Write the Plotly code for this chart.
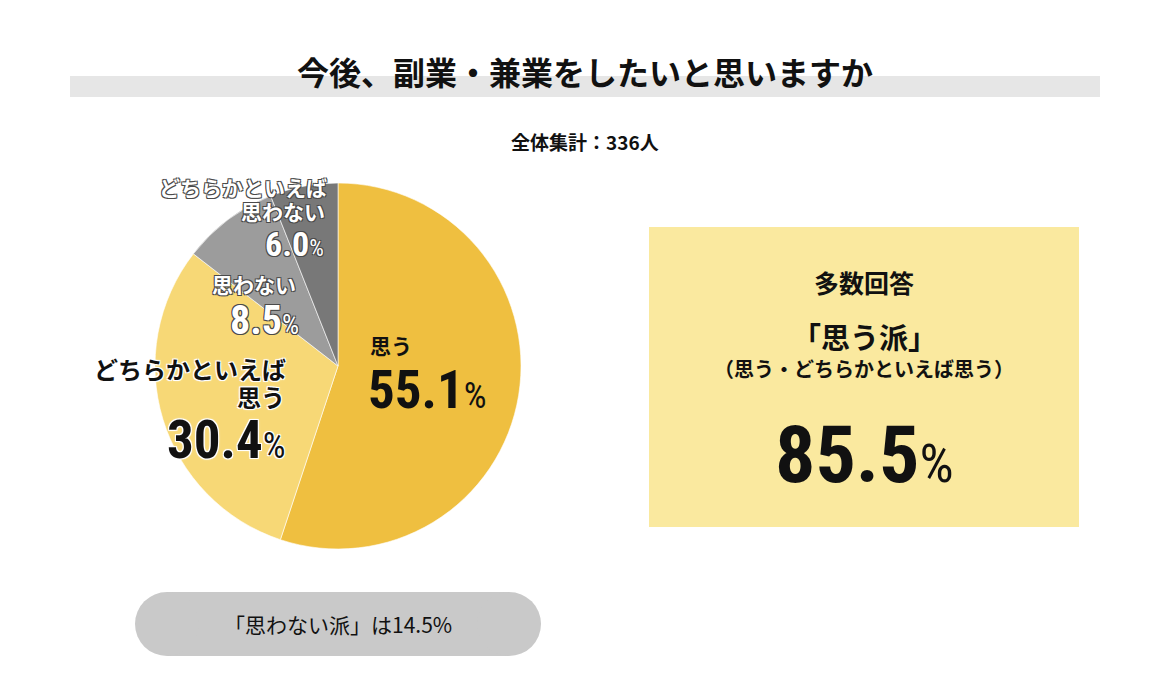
import plotly.graph_objects as go

# データ
labels = ["思う", "どちらかといえば思う", "思わない", "どちらかといえば思わない"]
values = [55.1, 30.4, 8.5, 6.0]
colors = ["#EFBF40", "#F7D876", "#9C9C9C", "#787878"]
total_n = 336

title_text = "今後、副業・兼業をしたいと思いますか"
yes_total = round(values[0] + values[1], 1)
no_total = round(values[2] + values[3], 1)

# ページの body に 8px の余白があるので、その分を引いて座標を合わせる
OFF = 8
W, H = 1170 - OFF, 682 - OFF
JP = "Noto Sans CJK JP"
NUM = "Roboto Condensed, Open Sans Condensed, DejaVu Sans Condensed, Noto Sans, sans-serif"


def px(x):
    return (x - OFF) / W


def py(y):
    return 1 - (y - OFF) / H


fig = go.Figure(
    data=[go.Pie(
        labels=labels,
        values=values,
        sort=False,
        direction="clockwise",
        rotation=0,
        marker=dict(colors=colors, line=dict(color="#FFFFFF", width=0.6)),
        textinfo="none",
        hoverinfo="skip",
        domain=dict(x=[px(155), px(521)], y=[py(549), py(183)]),
        showlegend=False,
    )]
)

shapes = [
    # タイトル下の帯
    dict(type="rect", xref="paper", yref="paper", x0=px(70), x1=px(1100), y0=py(97), y1=py(76),
         fillcolor="#E6E6E6", line=dict(width=0), layer="below"),
    # 右の黄色いボックス
    dict(type="rect", xref="paper", yref="paper", x0=px(649), x1=px(1079), y0=py(527), y1=py(227),
         fillcolor="#FAE99F", line=dict(width=0), layer="below"),
    # 下の丸いラベル
    dict(type="rect", xref="paper", yref="paper", x0=px(167), x1=px(509), y0=py(656), y1=py(592),
         fillcolor="#C9C9C9", line=dict(width=0), layer="below"),
    dict(type="circle", xref="paper", yref="paper", x0=px(135), x1=px(199), y0=py(656), y1=py(592),
         fillcolor="#C9C9C9", line=dict(width=0), layer="below"),
    dict(type="circle", xref="paper", yref="paper", x0=px(477), x1=px(541), y0=py(656), y1=py(592),
         fillcolor="#C9C9C9", line=dict(width=0), layer="below"),
]

white_edge = "-1px -1px 0 #FFF, 1px -1px 0 #FFF, -1px 1px 0 #FFF, 1px 1px 0 #FFF, 0 0 3px #FFF"
gray_edge = "-1px -1px 0 #4A4A4A, 1px -1px 0 #4A4A4A, -1px 1px 0 #4A4A4A, 1px 1px 0 #4A4A4A"


def ann(text, x, y, size, family=JP, color="#111111", weight="bold", xanchor="center", shadow=None):
    font = dict(family=family, size=size, color=color, weight=weight)
    if shadow:
        font["shadow"] = shadow
    return dict(text=text, x=px(x), y=py(y), xref="paper", yref="paper", showarrow=False,
                xanchor=xanchor, yanchor="middle", font=font)


def pct(v, size):
    ps = round(size * 0.68)
    st = f"font-family:{NUM};font-stretch:condensed"
    return (f"<span style=\"{st};font-size:{size}px;font-weight:bold\">{v}</span>"
            f"<span style=\"{st};font-size:{ps}px;font-weight:normal\">%</span>")


annotations = [
    ann(title_text, 585, 71, 32),
    ann(f"全体集計：{total_n}人", 585, 141, 19),

    # 思う
    ann(labels[0], 368, 345, 21, xanchor="left"),
    ann(pct(values[0], 53), 366, 390, 53, family=NUM, xanchor="left"),

    # どちらかといえば思う
    ann("どちらかといえば", 288, 368, 24, xanchor="right", shadow=white_edge),
    ann("思う", 287, 396, 24, xanchor="right", shadow=white_edge),
    ann(pct(values[1], 53), 288, 440, 53, family=NUM, xanchor="right", shadow=white_edge),

    # 思わない
    ann(labels[2], 298, 284, 21, color="#FFFFFF", xanchor="right", shadow=gray_edge),
    ann(pct(values[2], 40), 301, 320, 40, family=NUM, color="#FFFFFF", xanchor="right", shadow=gray_edge),

    # どちらかといえば思わない
    ann("どちらかといえば", 329, 187, 21, color="#FFFFFF", xanchor="right", shadow=gray_edge),
    ann("思わない", 327, 211, 21, color="#FFFFFF", xanchor="right", shadow=gray_edge),
    ann(pct(values[3], 34), 326, 244, 34, family=NUM, color="#FFFFFF", xanchor="right", shadow=gray_edge),

    # 右ボックス
    ann("多数回答", 864, 282, 25),
    ann("「思う派」", 864, 336, 29),
    ann("（思う・どちらかといえば思う）", 864, 368, 20),
    ann(pct(yes_total, 80), 864, 455, 80, family=NUM),

    # 下ラベル
    ann(f"「思わない派」は{no_total}%", 338, 624, 21, weight="normal"),
]

fig.update_layout(
    width=W,
    height=H,
    margin=dict(l=0, r=0, t=0, b=0),
    paper_bgcolor="#FFFFFF",
    plot_bgcolor="#FFFFFF",
    shapes=shapes,
    annotations=annotations,
)

fig.write_html("out.html")
